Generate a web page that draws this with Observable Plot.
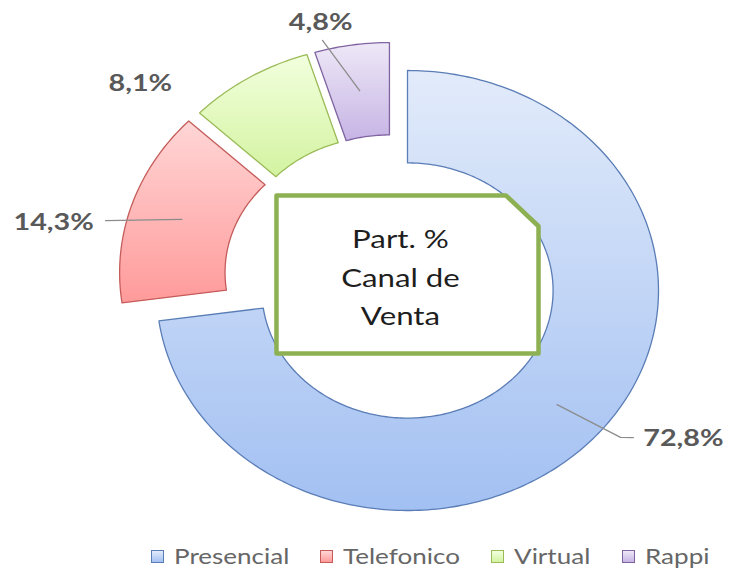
<!DOCTYPE html>
<html><head><meta charset="utf-8">
<script src="https://cdn.jsdelivr.net/npm/d3@7"></script>
<script src="https://cdn.jsdelivr.net/npm/@observablehq/plot@0.6"></script>
<style>
body{margin:0;background:#fff;}
#chart{width:730px;height:576px;position:relative;background:#fff;}
#legend{position:absolute;left:151px;top:539px;height:34px;display:flex;align-items:center;font-family:Lato,sans-serif;font-size:20.5px;color:#666;white-space:nowrap;}
.sw{display:inline-block;width:11px;height:11px;margin-right:10px;}
.lt{display:inline-block;}
.lt span{display:inline-block;transform:scaleX(1.27);transform-origin:0 50%;}
</style></head><body><div id="chart"></div><script>
// ---- data ----
const categories = ["Presencial", "Telefonico", "Virtual", "Rappi"];
const shares = [72.8, 14.3, 8.1, 4.8];
const valueLabels = ["72,8%", "14,3%", "8,1%", "4,8%"];
const titleLines = ["Part. %", "Canal de", "Venta"];

// ---- style / layout ----
const fillTop = ["#e2ebfa", "#ffd6d6", "#f2ffde", "#eee8f7"];
const fillBottom = ["#a2c0f2", "#ff9a9a", "#d3f3a0", "#c6b4e4"];
const strokes = ["#5a7db6", "#c45c5a", "#9bbb59", "#8064a2"];
const explode = [{d: 0, a: 0}, {d: 0.168, a: 299}, {d: 0.157, a: 318.6}, {d: 0.146, a: 330.5}];
const labelPlace = [{r: 1.289, a: 121.5}, {r: 1.283, a: 280.2}, {r: 1.265, a: 310.6}, {r: 1.125, a: 345.9}];
const leaderBends = [[{r: 1.08, a: 128.2}, {r: 1.121, a: 126.6}], [{r: 1.082, a: 282.6}], null, [{r: 1.044, a: 345.2}]];
const innerR = 0.58, midR = 0.79;
const W = 730, H = 535, cx = 407, cy = 290, rx = 251, ry = 220;
const box = {cx: 0, cy: 0.073, hw: 0.522, hh: 0.359, chX: 0.13, chY: 0.14};

const rad = a => a * Math.PI / 180;
const polar = (r, a, off) => ({x: off.x + r * Math.sin(rad(a)), y: off.y + r * Math.cos(rad(a))});
const offsetOf = i => ({x: explode[i].d * Math.sin(rad(explode[i].a)), y: explode[i].d * Math.cos(rad(explode[i].a))});

let cum = 0;
const slices = shares.map((v, i) => {
  const a0 = cum * 3.6, a1 = (cum + v) * 3.6; cum += v;
  const off = offsetOf(i);
  const n = Math.max(8, Math.ceil(a1 - a0));
  const pts = [];
  for (let k = 0; k <= n; k++) pts.push(polar(1, a0 + (a1 - a0) * k / n, off));
  for (let k = n; k >= 0; k--) pts.push(polar(innerR, a0 + (a1 - a0) * k / n, off));
  return {i, a0, a1, mid: (a0 + a1) / 2, off, pts};
});
const slicePts = slices.flatMap(s => s.pts.map(p => ({x: p.x, y: p.y, cat: categories[s.i]})));

const labelData = slices.map(s => ({...polar(labelPlace[s.i].r, labelPlace[s.i].a, s.off), text: valueLabels[s.i]}));
const leaderData = [];
slices.forEach(s => {
  if (!leaderBends[s.i]) return;
  leaderData.push({id: s.i, ...polar(midR, s.mid, s.off)});
  leaderBends[s.i].forEach(p => leaderData.push({id: s.i, ...polar(p.r, p.a, s.off)}));
});
const bx0 = box.cx - box.hw, bx1 = box.cx + box.hw, by0 = box.cy - box.hh, by1 = box.cy + box.hh;
const boxPts = [{x: bx0, y: by1}, {x: bx1 - box.chX, y: by1}, {x: bx1, y: by1 - box.chY}, {x: bx1, y: by0}, {x: bx0, y: by0}];
const titleData = [{x: box.cx - 0.028, y: box.cy, text: titleLines.join("\n")}];

const plot = Plot.plot({
  width: W, height: H, margin: 0,
  x: {domain: [-cx / rx, (W - cx) / rx], range: [0, W], axis: null},
  y: {domain: [-(H - cy) / ry, cy / ry], range: [H, 0], axis: null},
  marks: [
    Plot.line(slicePts, {x: "x", y: "y", z: "cat", stroke: "#5a7db6", curve: "linear-closed"}),
    Plot.line(leaderData, {x: "x", y: "y", z: "id", stroke: "#8c8c8c", strokeWidth: 1.3}),
    Plot.line(boxPts, {x: "x", y: "y", curve: "linear-closed", fill: "white", stroke: "#8db152", strokeWidth: 4.5, strokeLinejoin: "round"}),
    Plot.text(titleData, {x: "x", y: "y", text: "text", fontSize: 25, lineHeight: 1.54, fill: "#1e1e1e", fontFamily: "Lato"}),
    Plot.text(labelData, {x: "x", y: "y", text: "text", fontSize: 23, fontWeight: "bold", fill: "#595959", fontFamily: "Lato"})
  ]
});

const svg = d3.select(plot);
const defs = svg.append("defs");
fillTop.forEach((c, i) => {
  const g = defs.append("linearGradient").attr("id", `grad${i}`).attr("x1", 0).attr("y1", 0).attr("x2", 0).attr("y2", 1);
  g.append("stop").attr("offset", "0%").attr("stop-color", c);
  g.append("stop").attr("offset", "100%").attr("stop-color", fillBottom[i]);
});
const sliceGroup = plot.querySelectorAll('g[aria-label="line"]')[0];
if (sliceGroup) {
  sliceGroup.querySelectorAll("path").forEach((p, k) => {
    p.setAttribute("fill", `url(#grad${k})`);
    p.setAttribute("stroke", strokes[k]);
    p.setAttribute("stroke-width", "1.3");
  });
}
svg.selectAll("text").each(function() {
  const t = this.getAttribute("transform");
  if (t) this.setAttribute("transform", t + " scale(1.25,1)");
});

const chart = document.getElementById("chart");
chart.appendChild(plot);

const legend = document.createElement("div");
legend.id = "legend";
chart.appendChild(legend);
categories.forEach((c, i) => {
  const sw = document.createElement("span");
  sw.className = "sw";
  sw.style.border = `1.5px solid ${strokes[i]}`;
  sw.style.background = `linear-gradient(${fillTop[i]}, ${fillBottom[i]})`;
  const lt = document.createElement("span");
  lt.className = "lt";
  const inner = document.createElement("span");
  inner.textContent = c;
  lt.appendChild(inner);
  legend.appendChild(sw);
  legend.appendChild(lt);
  const w = inner.getBoundingClientRect().width;
  lt.style.width = w + "px";
  lt.style.marginRight = i < categories.length - 1 ? "31px" : "0";
});
</script></body></html>
